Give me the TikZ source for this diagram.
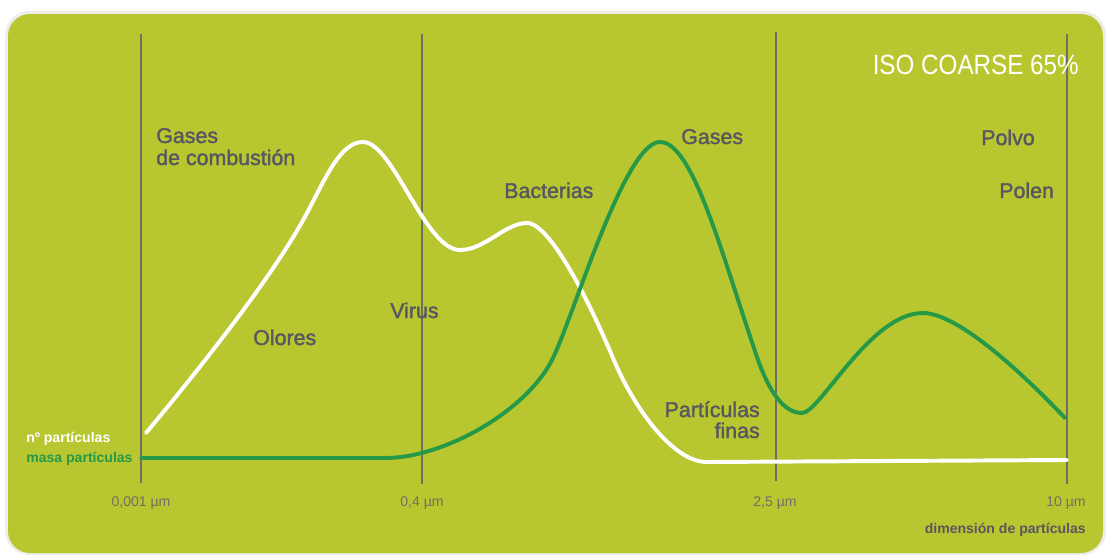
\documentclass[tikz,border=0pt]{standalone}
\usepackage{fontspec}
\setmainfont{Liberation Sans}
\newfontfamily\labelfont[FakeBold=1.6]{Liberation Sans}
\newfontfamily\titlefont[FakeStretch=0.87]{Liberation Sans}
\usepackage{tikz}
\definecolor{panelgreen}{RGB}{184,199,47}
\definecolor{massgreen}{RGB}{38,153,72}
\definecolor{txtgrey}{RGB}{88,86,96}
\definecolor{gridgrey}{RGB}{110,112,100}
\tikzstyle{lbl} = [anchor=base west, inner sep=0pt, text=txtgrey, font=\labelfont\fontsize{15.2}{18}\selectfont]
\tikzstyle{tick} = [anchor=base, inner sep=0pt, text=gridgrey, font=\fontsize{10}{12}\selectfont]
\tikzstyle{legend} = [anchor=base west, inner sep=0pt, font=\bfseries\fontsize{10}{12}\selectfont]
\tikzstyle{grid} = [draw=gridgrey, line width=0.9pt]
\tikzstyle{curve} = [line width=2.8pt, line cap=round, line join=round]

\begin{document}
\begin{tikzpicture}[x=0.025cm, y=-0.025cm]
    \useasboundingbox (0,0) rectangle (1106,555);
    % panel with a soft shadow
    \fill[black!7, rounded corners=0.6cm] (5,11) rectangle (1106,555);
    \fill[panelgreen, rounded corners=0.55cm] (8,14) rectangle (1103,553);

    \foreach \x/\top/\bot in {141/34/483, 422/34/484, 776/32/481, 1067/34/484}
        \draw[grid] (\x,\top) -- (\x,\bot);

    % nº particulas
    \draw[curve, white] (146,433) .. controls (191,379) and (272,279) .. (307,213)
        .. controls (327,175) and (341,142) .. (363,142)
        .. controls (393,142) and (425,250) .. (460,250)
        .. controls (485,250) and (505,223) .. (527,223)
        .. controls (552,223) and (595,315) .. (613,358)
        .. controls (633,406) and (672,462) .. (707,462)
        -- (1067,460);
    % masa particulas
    \draw[curve, massgreen] (141,458) -- (385,458)
        .. controls (445,458) and (528,410) .. (553,358)
        .. controls (575,312) and (625,142) .. (660,142)
        .. controls (693,142) and (722,255) .. (757,357)
        .. controls (769,392) and (784,413) .. (802,413)
        .. controls (820,413) and (870,313) .. (923,313)
        .. controls (960,313) and (1030,381) .. (1065,418);

    % labels
    \node[lbl] (comb) at (156,143) {Gases};
    \node[lbl] (comb2) at (156,165) {de combustión};
    \node[lbl] (olores) at (253,345) {Olores};
    \node[lbl] (virus) at (390,318) {Virus};
    \node[lbl] (bact) at (504,198) {Bacterias};
    \node[lbl] (gases) at (681,144) {Gases};
    \node[lbl] (polvo) at (981,145) {Polvo};
    \node[lbl] (polen) at (999,198) {Polen};
    \node[lbl, anchor=base east] (finas) at (760,417) {Partículas};
    \node[lbl, anchor=base east] (finas2) at (760,438) {finas};
    \node[anchor=base east, inner sep=0pt, text=white, font=\titlefont\fontsize{19.8}{22}\selectfont] (iso) at (1079,74) {ISO COARSE 65\%};

    \node[legend, text=white] (nlegend) at (26,442) {nº partículas};
    \node[legend, text=massgreen] (mlegend) at (26,462) {masa partículas};

    \node[tick] (t1) at (141,506) {0,001 µm};
    \node[tick] (t2) at (422,506) {0,4 µm};
    \node[tick] (t3) at (775,506) {2,5 µm};
    \node[tick] (t4) at (1066,506) {10 µm};
    \node[legend, anchor=base east, text=txtgrey] (axis) at (1086,533) {dimensión de partículas};
\end{tikzpicture}
\end{document}
